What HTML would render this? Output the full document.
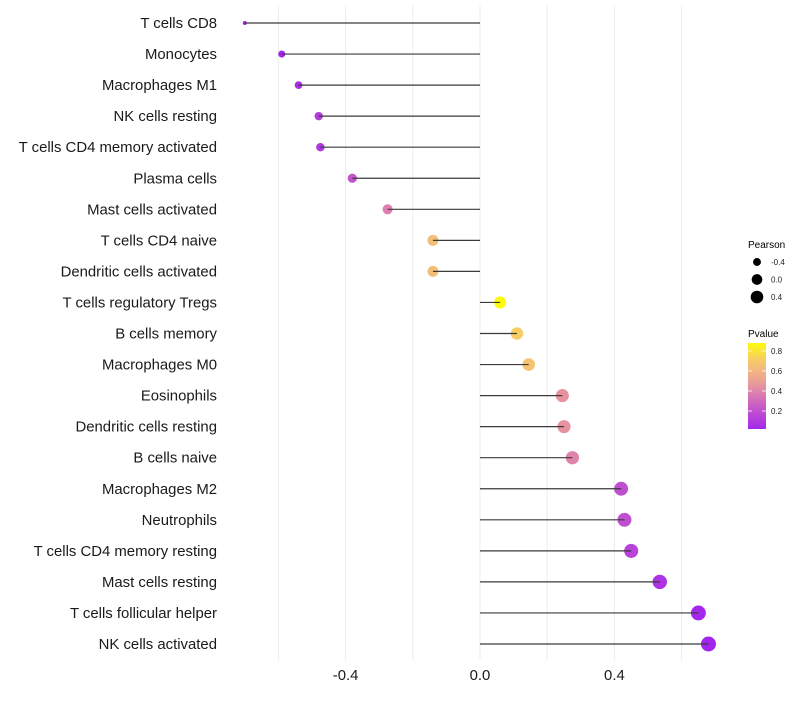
<!DOCTYPE html>
<html><head><meta charset="utf-8"><style>
body{margin:0;background:#fff;font-family:"Liberation Sans",sans-serif}
</style></head><body>
<svg id="chart" width="800" height="700" xmlns="http://www.w3.org/2000/svg"></svg>
<script>
const categories=["T cells CD8","Monocytes","Macrophages M1","NK cells resting","T cells CD4 memory activated","Plasma cells","Mast cells activated","T cells CD4 naive","Dendritic cells activated","T cells regulatory  Tregs","B cells memory","Macrophages M0","Eosinophils","Dendritic cells resting","B cells naive","Macrophages M2","Neutrophils","T cells CD4 memory resting","Mast cells resting","T cells follicular helper","NK cells activated"];
const pearson=[-0.70,-0.59,-0.54,-0.48,-0.475,-0.38,-0.275,-0.14,-0.14,0.06,0.11,0.145,0.245,0.25,0.275,0.42,0.43,0.45,0.535,0.65,0.68];
const pvalue=[0.01,0.02,0.06,0.12,0.1,0.22,0.38,0.65,0.65,0.88,0.72,0.68,0.45,0.45,0.4,0.2,0.2,0.15,0.08,0.03,0.02];
const xTicks=[-0.4,0.0,0.4];
const xTickLabels=["-0.4","0.0","0.4"];
const gridVals=[-0.6,-0.4,-0.2,0,0.2,0.4,0.6];
const sizeLegend=[-0.4,0.0,0.4];
const colorLegend=[0.2,0.4,0.6,0.8];
const NS="http://www.w3.org/2000/svg";
const svg=document.getElementById('chart');
function x(v){return 480+v*336;}
function y(i){return 23+i*31.05;}
const pmin=Math.min(...pearson),pmax=Math.max(...pearson);
function r(p){const t=Math.max(0,Math.min(1,(p-pmin)/(pmax-pmin)));return (1+5*Math.sqrt(t))*1.1+0.9;}
function yl(p){return 428-(p-0.03)*100;}
const stops=[[0,[160,32,240]],[0.25,[200,90,200]],[0.5,[238,160,150]],[0.7,[245,200,110]],[0.9,[255,255,0]]];
function col(p){p=Math.max(0,Math.min(0.9,p));for(let k=1;k<stops.length;k++){if(p<=stops[k][0]){const a=stops[k-1],b=stops[k];const t=(p-a[0])/(b[0]-a[0]);return 'rgb('+a[1].map((c,j)=>Math.round(c+(b[1][j]-c)*t)).join(',')+')';}}return 'rgb(255,255,0)';}
function el(t,at,txt){const e=document.createElementNS(NS,t);for(const k in at)e.setAttribute(k,at[k]);if(txt!=null)e.textContent=txt;svg.appendChild(e);return e;}
gridVals.forEach(v=>{const g=el('line',{x1:x(v),x2:x(v),y1:5,y2:660,stroke:'#ececec','stroke-width':1});

});
categories.forEach((c,i)=>{
const t=el('text',{x:217,y:y(i)+5,'text-anchor':'end','font-size':14.9,fill:'#1a1a1a'},c);


const d=el('circle',{cx:x(pearson[i]),cy:y(i),r:r(pearson[i]),fill:col(pvalue[i])});


const l=el('line',{x1:x(0),x2:x(pearson[i]),y1:y(i),y2:y(i),stroke:'#3a3a3a','stroke-width':1.2});


});
xTicks.forEach((v,i)=>{const t=el('text',{x:x(v),y:680,'text-anchor':'middle','font-size':14.9,fill:'#1a1a1a'},xTickLabels[i]);

});
let t=el('text',{x:748,y:248,'font-size':10,fill:'#000'},'Pearson');


sizeLegend.forEach((v,i)=>{const yy=262+i*17.5;
const c=el('circle',{cx:757,cy:yy,r:r(v)-0.6,fill:'#000'});


const tt=el('text',{x:771,y:yy+3,'font-size':8,fill:'#222'},v===0?'0.0':String(v));

});
t=el('text',{x:748,y:337,'font-size':10,fill:'#000'},'Pvalue');


const defs=el('defs',{});const lg=document.createElementNS(NS,'linearGradient');lg.setAttribute('id','pg');lg.setAttribute('x1','0');lg.setAttribute('y1','1');lg.setAttribute('x2','0');lg.setAttribute('y2','0');defs.appendChild(lg);
for(let k=0;k<=10;k++){const p=0.03+k*0.085;const s=document.createElementNS(NS,'stop');s.setAttribute('offset',k/10);s.setAttribute('stop-color',col(p));lg.appendChild(s);}
const bar=el('rect',{x:748,y:343,width:18,height:86,fill:'url(#pg)'});


colorLegend.forEach(v=>{const yy=yl(v);
el('line',{x1:748,x2:752,y1:yy,y2:yy,stroke:'#fff','stroke-width':0.8});
el('line',{x1:762,x2:766,y1:yy,y2:yy,stroke:'#fff','stroke-width':0.8});
const tt=el('text',{x:771,y:yy+3,'font-size':8,fill:'#222'},v.toFixed(1));

});
</script>
</body></html>
